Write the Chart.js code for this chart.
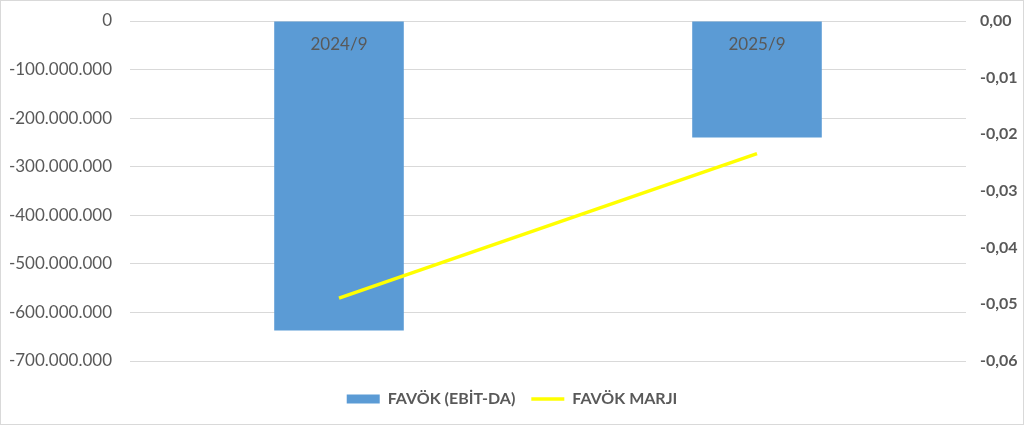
<!DOCTYPE html>
<html>
<head>
<meta charset="utf-8">
<script src="https://cdn.jsdelivr.net/npm/chart.js@4.4.1/dist/chart.umd.min.js"></script>
<style>
  html, body { margin: 0; padding: 0; background: #fff; }
  #wrap { width: 1024px; height: 425px; box-sizing: border-box; border: 1px solid #d9d9d9; }
</style>
</head>
<body>
<div id="wrap"><canvas id="chart" width="1022" height="423"></canvas></div>
<script>
// veriler
var categories = ['2024/9', '2025/9'];
var favokValues = [-637000000, -240000000];
var marjValues = [-0.0489, -0.0234];

var textColor = '#595959';

function fmtDots(v) {
  var s = Math.round(Math.abs(v)).toString().replace(/\B(?=(\d{3})+(?!\d))/g, '.');
  return (v < 0 ? '-' : '') + s;
}

// kategori etiketleri cubuklarin icinde, sifir cizgisinin altinda
var catLabels = {
  id: 'catLabels',
  afterDatasetsDraw: function (chart) {
    var ctx = chart.ctx;
    var x = chart.scales.x;
    var y = chart.scales.y;
    ctx.save();
    ctx.font = '17px Lato';
    ctx.fillStyle = textColor;
    ctx.textAlign = 'center';
    ctx.textBaseline = 'middle';
    for (var i = 0; i < categories.length; i++) {
      ctx.fillText(categories[i], x.getPixelForValue(i), y.getPixelForValue(0) + 24);
    }
    ctx.restore();
  }
};

function fixLeft(s) { s.width = 129; s.paddingTop = 0; s.paddingBottom = 0; }
function fixRight(s) { s.width = 57; s.paddingTop = 0; s.paddingBottom = 0; }

new Chart(document.getElementById('chart'), {
  type: 'bar',
  data: {
    labels: categories,
    datasets: [{
      type: 'bar',
      label: 'FAVÖK (EBİT-DA)',
      data: favokValues,
      backgroundColor: '#5b9bd5',
      borderWidth: 0,
      barPercentage: 1,
      categoryPercentage: 0.31,
      pointStyle: 'rect',
      yAxisID: 'y',
      order: 1
    }, {
      type: 'line',
      label: 'FAVÖK MARJI',
      data: marjValues,
      borderColor: '#ffff00',
      backgroundColor: '#ffff00',
      borderWidth: 3.5,
      pointRadius: 0,
      pointStyle: 'line',
      fill: false,
      yAxisID: 'y1',
      order: 0
    }]
  },
  options: {
    responsive: false,
    animation: false,
    layout: { padding: { top: 20, bottom: 7, left: 0, right: 0 } },
    plugins: {
      tooltip: { enabled: false },
      legend: {
        position: 'bottom',
        // bos baslik: legend satirini asagi itmek icin
        title: { display: true, text: '', font: { size: 10, lineHeight: 1 }, padding: { top: 2, bottom: 2 } },
        labels: {
          usePointStyle: true,
          pointStyleWidth: 33,
          boxHeight: 9,
          padding: 16,
          color: textColor,
          font: { family: 'Lato', size: 16, weight: 'bold' },
          sort: function (a, b) { return a.datasetIndex - b.datasetIndex; }
        }
      }
    },
    scales: {
      x: {
        type: 'category',
        display: false,
        offset: true
      },
      y: {
        position: 'left',
        min: -700000000,
        max: 0,
        border: { display: false },
        grid: { color: '#d9d9d9', lineWidth: 1, drawTicks: false },
        afterFit: fixLeft,
        ticks: {
          stepSize: 100000000,
          padding: 18,
          color: textColor,
          font: { family: 'Lato', size: 17 },
          callback: function (v) { return fmtDots(v); }
        }
      },
      y1: {
        position: 'right',
        min: -0.06,
        max: 0,
        border: { display: false },
        grid: { display: false, drawTicks: false },
        afterFit: fixRight,
        ticks: {
          stepSize: 0.01,
          padding: 14,
          color: textColor,
          font: { family: 'Lato', size: 16, weight: 'bold' },
          callback: function (v) { return v.toFixed(2).replace('.', ','); }
        }
      }
    }
  },
  plugins: [catLabels]
});
</script>
</body>
</html>
